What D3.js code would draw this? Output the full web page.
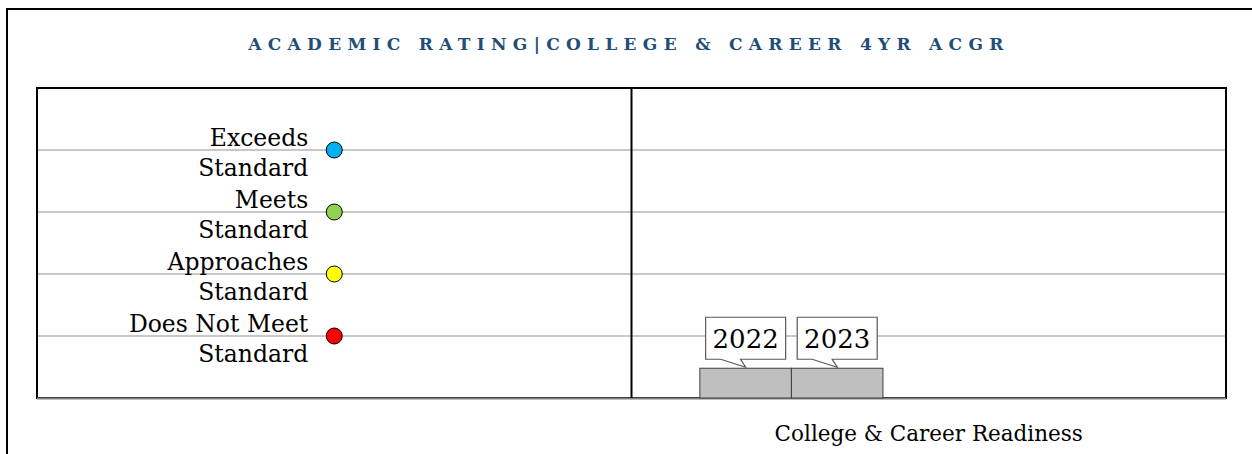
<!DOCTYPE html>
<html>
<head>
<meta charset="utf-8">
<script src="https://cdn.jsdelivr.net/npm/d3@7"></script>
<style>
  body { margin: 0; background: #fff; }
  text { font-family: "DejaVu Serif", serif; }
</style>
</head>
<body>
<div id="chart"></div>
<script>
// data
var title = "ACADEMIC RATING|COLLEGE & CAREER 4YR ACGR";
var categories = ["", "College & Career Readiness"];
var levels = ["Does Not Meet Standard", "Approaches Standard", "Meets Standard", "Exceeds Standard"];
var levelLines = [["Does Not Meet", "Standard"], ["Approaches", "Standard"], ["Meets", "Standard"], ["Exceeds", "Standard"]];
var levelValues = [1, 2, 3, 4];
var levelColors = ["#FF0000", "#FFFF00", "#92D050", "#00B0F0"];
var years = ["2022", "2023"];
var yearValues = [0.48, 0.48];

var W = 1252, H = 454;
var margin = { top: 88, right: 26, bottom: 56, left: 37 };

var svg = d3.select("#chart").append("svg")
    .attr("width", W)
    .attr("height", H);

// outer frame
svg.append("rect")
    .attr("x", 7).attr("y", 9)
    .attr("width", W + 20).attr("height", H + 20)
    .attr("fill", "none")
    .attr("stroke", "#000")
    .attr("stroke-width", 2);

svg.append("text")
    .attr("x", 629).attr("y", 50)
    .attr("text-anchor", "middle")
    .style("font-size", "17px")
    .style("font-weight", "bold")
    .style("letter-spacing", "6.3px")
    .attr("fill", "#1F4E79")
    .text(title);

// scales
var x = d3.scaleBand().domain(categories).range([margin.left, W - margin.right]).padding(0);
var y = d3.scaleLinear().domain([0, 5]).range([H - margin.bottom, margin.top]);

// gridlines
svg.append("g")
    .selectAll("line")
    .data(levelValues)
    .enter().append("line")
    .attr("x1", x.range()[0]).attr("x2", x.range()[1])
    .attr("y1", function (d) { return y(d); })
    .attr("y2", function (d) { return y(d); })
    .attr("stroke", "#C8C8C8")
    .attr("stroke-width", 2);

// plot frame
svg.append("rect")
    .attr("x", x.range()[0]).attr("y", y(5))
    .attr("width", x.range()[1] - x.range()[0])
    .attr("height", y(0) - y(5))
    .attr("fill", "none")
    .attr("stroke", "#000")
    .attr("stroke-width", 2);

// bottom axis line (gray)
svg.append("line")
    .attr("x1", x.range()[0]).attr("x2", x.range()[1])
    .attr("y1", y(0) + 0.5).attr("y2", y(0) + 0.5)
    .attr("stroke", "#808080")
    .attr("stroke-width", 2);

// divider
svg.append("line")
    .attr("x1", x(categories[1])).attr("x2", x(categories[1]))
    .attr("y1", y(5)).attr("y2", y(0))
    .attr("stroke", "#000")
    .attr("stroke-width", 2);

// level labels + dots in first column
var dotX = x(categories[0]) + x.bandwidth() / 2;
var lab = svg.append("g").selectAll("text")
    .data(levelValues)
    .enter().append("text")
    .attr("text-anchor", "end")
    .style("font-size", "23.5px")
    .attr("fill", "#000");
lab.append("tspan")
    .attr("x", dotX - 26)
    .attr("y", function (d) { return y(d) - 4; })
    .text(function (d, i) { return levelLines[i][0]; });
lab.append("tspan")
    .attr("x", dotX - 26)
    .attr("y", function (d) { return y(d) + 26; })
    .text(function (d, i) { return levelLines[i][1]; });

svg.append("g").selectAll("circle")
    .data(levelValues)
    .enter().append("circle")
    .attr("cx", dotX)
    .attr("cy", function (d) { return y(d); })
    .attr("r", 8)
    .attr("fill", function (d, i) { return levelColors[i]; })
    .attr("stroke", "#000")
    .attr("stroke-width", 1);

// bars for the years
var x0 = x(categories[1]), bw = x.bandwidth();
var xYear = d3.scaleBand().domain(years)
    .range([x0 + bw * 0.115, x0 + bw * 0.423]).padding(0);

svg.append("g").selectAll("rect")
    .data(yearValues)
    .enter().append("rect")
    .attr("x", function (d, i) { return xYear(years[i]); })
    .attr("y", function (d) { return y(d); })
    .attr("width", xYear.bandwidth())
    .attr("height", function (d) { return y(0) - y(d); })
    .attr("fill", "#BFBFBF")
    .attr("stroke", "#404040")
    .attr("stroke-width", 1);

// callouts
var boxW = 80, boxH = 42;
var call = svg.append("g").selectAll("g")
    .data(yearValues)
    .enter().append("g")
    .attr("transform", function (d, i) {
        return "translate(" + (xYear(years[i]) + xYear.bandwidth() / 2) + "," + (y(d) - 1) + ")";
    });
call.append("path")
    .attr("d", "M" + (-boxW / 2) + "," + (-8 - boxH) + "H" + (boxW / 2) + "V-8H-5L0,0L-25,-8H" + (-boxW / 2) + "Z")
    .attr("fill", "#fff")
    .attr("stroke", "#595959")
    .attr("stroke-width", 1.2);
call.append("text")
    .attr("text-anchor", "middle")
    .attr("y", -19)
    .style("font-size", "26px")
    .text(function (d, i) { return years[i]; });

// x axis label
svg.append("text")
    .attr("x", x(categories[1]) + bw / 2)
    .attr("y", 441)
    .attr("text-anchor", "middle")
    .style("font-size", "21.5px")
    .text(categories[1]);
</script>
</body>
</html>
